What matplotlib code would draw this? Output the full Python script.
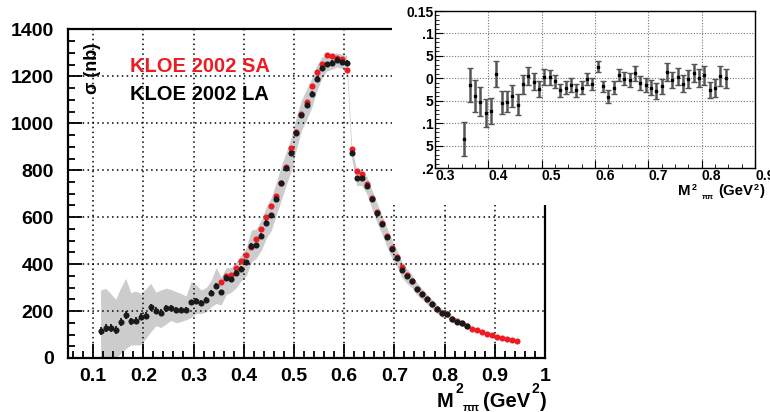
#----------------------------------------------------------
"""
# KLOE 2002: pi+pi- cross section, small angle vs large angle
"""
#----------------------------------------------------------
import numpy as np
import matplotlib
matplotlib.use('Agg')
import matplotlib.pyplot as plt
import matplotlib.patches as pch
from matplotlib.ticker import MultipleLocator, FixedLocator, FixedFormatter

plt.rcParams['font.family'] = ['Liberation Sans', 'DejaVu Sans']
plt.rcParams['font.weight'] = 'bold'

#----------------------------------------------------------
# data

la_x = [0.115, 0.125, 0.135, 0.145, 0.155, 0.165, 0.175, 0.185, 0.195, 0.205,
        0.215, 0.225, 0.235, 0.245, 0.255, 0.265, 0.275, 0.285, 0.295, 0.305,
        0.315, 0.325, 0.335, 0.345, 0.355, 0.365, 0.375, 0.385, 0.395, 0.405,
        0.415, 0.425, 0.435, 0.445, 0.455, 0.465, 0.475, 0.485, 0.495, 0.505,
        0.515, 0.525, 0.535, 0.545, 0.555, 0.565, 0.575, 0.585, 0.595, 0.605,
        0.615, 0.625, 0.635, 0.645, 0.655, 0.665, 0.675, 0.685, 0.695, 0.705,
        0.715, 0.725, 0.735, 0.745, 0.755, 0.765, 0.775, 0.785, 0.795, 0.805,
        0.815, 0.825, 0.835, 0.845]
la_sigma = [116, 128, 126, 119, 153, 183, 156, 159, 175, 180,
            216, 202, 193, 212, 212, 204, 204, 204, 237, 242,
            236, 247, 279, 307, 280, 342, 336, 363, 381, 409,
            478, 481, 522, 576, 609, 679, 746, 810, 872, 961,
            1035, 1080, 1127, 1191, 1236, 1253, 1258, 1271, 1261, 1259,
            872, 765, 765, 735, 676, 619, 569, 514, 463, 425,
            375, 349, 328, 294, 273, 250, 230, 209, 190, 189,
            166, 155, 148, 136]
la_err = [17, 17, 17, 16, 16, 16, 16, 15, 15, 15,
          15, 14, 14, 14, 13, 13, 13, 12, 12, 12,
          12, 11, 11, 11, 10, 10, 10, 10, 10, 10,
          10, 10, 10, 10, 10, 10, 10, 10, 10, 10,
          10, 10, 10, 10, 10, 10, 10, 10, 10, 10,
          9, 9, 9, 9, 8, 8, 8, 8, 8, 8,
          7, 7, 7, 7, 6, 6, 6, 6, 6, 6,
          5, 5, 5, 5]
band_hi = [290, 297, 275, 250, 300, 339, 278, 285, 275, 295,
           318, 280, 290, 298, 292, 283, 275, 264, 325, 312,
           290, 300, 330, 385, 345, 385, 385, 410, 440, 470,
           545, 550, 590, 645, 685, 750, 820, 880, 945, 1030,
           1100, 1145, 1190, 1245, 1280, 1295, 1298, 1300, 1295, 1290,
           900, 800, 800, 775, 718, 662, 610, 555, 503, 462,
           410, 380, 355, 320, 296, 271, 250, 228, 208, 204,
           180, 168, 160, 148]
band_lo = [0, 0, 0, 0, 20, 40, 55, 56, 57, 84,
           112, 138, 130, 145, 160, 150, 155, 163, 173, 190,
           190, 197, 218, 232, 226, 270, 280, 300, 330, 350,
           410, 425, 460, 510, 545, 610, 675, 740, 800, 890,
           970, 1015, 1065, 1135, 1190, 1222, 1230, 1240, 1235, 1230,
           850, 735, 735, 700, 638, 578, 530, 475, 425, 390,
           342, 318, 300, 268, 250, 229, 210, 190, 172, 174,
           152, 142, 136, 124]

sa_x = [0.355, 0.365, 0.375, 0.385, 0.395, 0.405, 0.415, 0.425, 0.435, 0.445,
        0.455, 0.465, 0.475, 0.485, 0.495, 0.505, 0.515, 0.525, 0.535, 0.545,
        0.555, 0.565, 0.575, 0.585, 0.595, 0.605, 0.615, 0.625, 0.635, 0.645,
        0.655, 0.665, 0.675, 0.685, 0.695, 0.705, 0.715, 0.725, 0.735, 0.745,
        0.755, 0.765, 0.775, 0.785, 0.795, 0.805, 0.815, 0.825, 0.835, 0.845,
        0.855, 0.865, 0.875, 0.885, 0.895, 0.905, 0.915, 0.925, 0.935, 0.945]
sa_sigma = [325, 350, 352, 385, 413, 441, 475, 508, 551, 600,
            646, 690, 745, 812, 893, 964, 1040, 1089, 1160, 1219,
            1255, 1291, 1286, 1280, 1275, 1229, 889, 798, 783, 740,
            680, 622, 574, 518, 470, 430, 386, 355, 330, 296,
            274, 252, 231, 210, 192, 187, 168, 156, 148, 137,
            125, 118, 111, 104, 98, 91, 86, 81, 77, 72]

# relative difference shown in the inset
diff_x = [0.355, 0.365, 0.375, 0.385, 0.395, 0.405, 0.415, 0.425, 0.435, 0.445,
          0.455, 0.465, 0.475, 0.485, 0.495, 0.505, 0.515, 0.525, 0.535, 0.545,
          0.555, 0.565, 0.575, 0.585, 0.595, 0.605, 0.615, 0.625, 0.635, 0.645,
          0.655, 0.665, 0.675, 0.685, 0.695, 0.705, 0.715, 0.725, 0.735, 0.745,
          0.755, 0.765, 0.775, 0.785, 0.795, 0.805, 0.815, 0.825, 0.835, 0.845]
diff_y = [-0.135, -0.015, -0.040, -0.052, -0.078, -0.074, 0.010, -0.054, -0.052, -0.039,
          -0.059, -0.013, 0.005, -0.008, -0.023, 0.003, 0.002, -0.007, -0.027, -0.021,
          -0.015, -0.027, -0.021, -0.002, -0.012, 0.026, -0.018, -0.041, -0.021, 0.007,
          -0.001, -0.004, 0.011, -0.010, -0.015, -0.021, -0.028, -0.018, 0.014, -0.004,
          0.003, -0.012, -0.002, 0.011, 0.000, 0.007, -0.027, -0.021, 0.005, 0.000]
diff_err = [0.038, 0.038, 0.036, 0.033, 0.031, 0.029, 0.029, 0.026, 0.024, 0.024,
            0.023, 0.021, 0.021, 0.019, 0.018, 0.018, 0.017, 0.015, 0.015, 0.015,
            0.015, 0.015, 0.014, 0.013, 0.013, 0.012, 0.013, 0.014, 0.014, 0.014,
            0.014, 0.015, 0.016, 0.015, 0.016, 0.017, 0.018, 0.017, 0.019, 0.018,
            0.019, 0.019, 0.020, 0.020, 0.020, 0.021, 0.018, 0.020, 0.022, 0.021]

main_xticks = [0.1, 0.2, 0.3, 0.4, 0.5, 0.6, 0.7, 0.8, 0.9, 1.0]
main_xlabels = ['0.1', '0.2', '0.3', '0.4', '0.5', '0.6', '0.7', '0.8', '0.9', '1']
main_yticks = [0, 200, 400, 600, 800, 1000, 1200, 1400]
inset_xticks = [0.3, 0.4, 0.5, 0.6, 0.7, 0.8, 0.9]
inset_xlabels = ['0.3', '0.4', '0.5', '0.6', '0.7', '0.8', '0.9']
inset_yticks = [-0.2, -0.15, -0.1, -0.05, 0.0, 0.05, 0.1, 0.15]
inset_ylabels = ['.2', '5', '.1', '5', '0', '5', '.1', '0.15']

RED = '#ec1c24'
W, H = 770, 412


def fpos(x, y):
    # pixel position (from top-left) -> figure fraction
    return x / W, 1 - y / H


def main():
    fig = plt.figure(figsize=(7.7, 4.12), dpi=100)

    # main plot
    ax = fig.add_axes([68 / W, 1 - 358 / H, 477 / W, 328.5 / H], zorder=1)
    ax.fill_between(la_x, band_lo, band_hi, color='#cccccc', lw=0, zorder=1)
    ax.plot(sa_x, sa_sigma, 'o', color=RED, ms=4.4, mew=0, zorder=3)
    ax.errorbar(la_x, la_sigma, yerr=la_err, fmt='o', color='#1a1a1a',
                ms=4.4, mew=0, elinewidth=1.3, capsize=0, zorder=4)
    ax.set_xlim(0.05, 1.0)
    ax.set_ylim(0, 1400)
    ax.set_xticks(main_xticks)
    ax.set_xticklabels(main_xlabels)
    ax.set_yticks(main_yticks)
    ax.xaxis.set_minor_locator(MultipleLocator(0.02))
    ax.yaxis.set_minor_locator(MultipleLocator(50))
    ax.tick_params(which='both', direction='in', top=False, right=False,
                   width=1.3, labelsize=14)
    ax.tick_params(which='major', length=10)
    ax.tick_params(which='minor', length=5)
    ax.tick_params(axis='x', pad=7)
    ax.tick_params(axis='y', pad=10)
    for lbl in ax.get_xticklabels() + ax.get_yticklabels():
        lbl.set_fontweight('bold')
    ax.grid(True, color='black', linestyle=(0, (1, 2.2)), lw=1.1)
    for s in ax.spines.values():
        s.set_linewidth(1.6)

    ax.text(0.0985, 1235, 'σ (nb)', rotation=90, ha='center', va='center',
            fontsize=13, fontweight='bold', zorder=5)
    fig.text(*fpos(130, 72), 'KLOE 2002 SA', color=RED, fontsize=14.5,
             fontweight='bold', va='baseline')
    fig.text(*fpos(130, 100), 'KLOE 2002 LA', color='black', fontsize=14.5,
             fontweight='bold', va='baseline')

    # x axis title of the main plot
    fig.text(*fpos(437, 407), 'M', fontsize=14.5, fontweight='bold', va='baseline')
    fig.text(*fpos(455.5, 393), '2', fontsize=10, fontweight='bold', va='baseline')
    fig.text(*fpos(463, 411), 'ππ', fontsize=8, fontweight='bold', va='baseline')
    fig.text(*fpos(483.5, 407), '(GeV', fontsize=14.5, fontweight='bold', va='baseline')
    fig.text(*fpos(532, 393), '2', fontsize=10, fontweight='bold', va='baseline')
    fig.text(*fpos(539.5, 407), ')', fontsize=14.5, fontweight='bold', va='baseline')

    # white pad under the inset
    pad = pch.Rectangle(fpos(392, 205), (W - 392) / W, 205 / H,
                        transform=fig.transFigure, facecolor='white',
                        edgecolor='none', zorder=2)
    fig.patches.append(pad)

    # inset: relative difference
    ax2 = fig.add_axes([435 / W, 1 - 168 / H, 320 / W, 157 / H], zorder=3)
    ax2.errorbar(diff_x, diff_y, yerr=diff_err, fmt='s', color='black', ms=1.8,
                 ecolor='#555555', elinewidth=1.8, capsize=2, capthick=1)
    ax2.set_xlim(0.3, 0.9)
    ax2.set_ylim(-0.2, 0.15)
    ax2.xaxis.set_major_locator(FixedLocator(inset_xticks))
    ax2.xaxis.set_major_formatter(FixedFormatter(inset_xlabels))
    ax2.yaxis.set_major_locator(FixedLocator(inset_yticks))
    ax2.yaxis.set_major_formatter(FixedFormatter(inset_ylabels))
    ax2.xaxis.set_minor_locator(MultipleLocator(0.025))
    ax2.yaxis.set_minor_locator(MultipleLocator(0.01))
    ax2.tick_params(which='both', direction='in', top=False, right=False,
                    labelsize=10, pad=1)
    ax2.tick_params(which='major', length=6)
    ax2.tick_params(which='minor', length=3)
    for lbl in ax2.get_xticklabels():
        lbl.set_ha('left')
        lbl.set_fontweight('bold')
    for lbl in ax2.get_yticklabels():
        lbl.set_fontweight('bold')
    ax2.grid(True, color='#777777', linestyle=(0, (1, 1.5)), lw=0.8)
    for s in ax2.spines.values():
        s.set_linewidth(1.0)

    fig.text(*fpos(678, 195), 'M', fontsize=10.8, fontweight='bold', va='baseline')
    fig.text(*fpos(691.5, 190), '2', fontsize=6.5, fontweight='bold', va='baseline')
    fig.text(*fpos(702, 199), 'ππ', fontsize=5.5, fontweight='bold', va='baseline')
    fig.text(*fpos(718, 195), '(GeV', fontsize=10.8, fontweight='bold', va='baseline')
    fig.text(*fpos(753.5, 190), '2', fontsize=6.5, fontweight='bold', va='baseline')
    fig.text(*fpos(759.5, 195), ')', fontsize=10.8, fontweight='bold', va='baseline')

    fig.savefig('out.png', dpi=100)


#----------------------------------------------------------
if __name__ == '__main__':
    main()
